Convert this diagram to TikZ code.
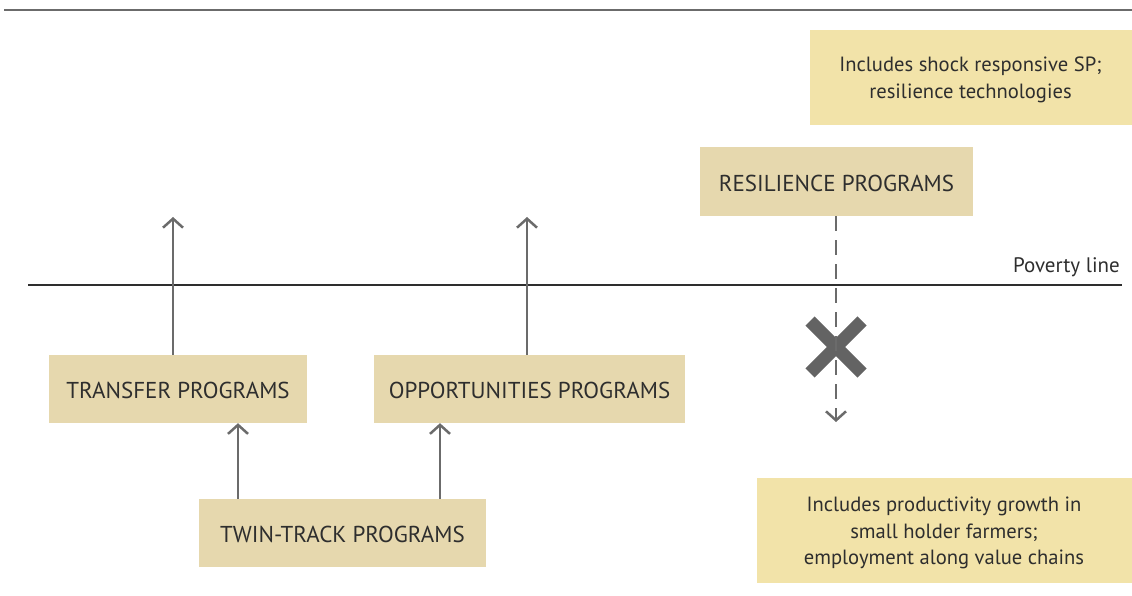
\documentclass[tikz,border=0pt]{standalone}
\usepackage{fontspec}
\setmainfont{PT Sans}
\usetikzlibrary{arrows.meta}
\definecolor{progfill}{HTML}{E6D8AE}
\definecolor{notefill}{HTML}{F2E3A9}
\definecolor{inkgray}{HTML}{6B6B6B}
\definecolor{txt}{HTML}{2E2E2E}
\definecolor{cross}{HTML}{636363}
\begin{document}
\begin{tikzpicture}[x=1pt,y=-1pt,
  progbox/.style={fill=progfill,draw=none,inner sep=0pt},
  notebox/.style={fill=notefill,draw=none,inner sep=0pt},
  progtext/.style={inner sep=0pt,text=txt,font=\fontsize{23}{27}\selectfont},
  notetext/.style={inner sep=0pt,text=txt,align=center,font=\fontsize{20.6}{26.5}\selectfont},
  uparrow/.style={draw=inkgray,line width=2.5pt,-{Straight Barb[length=9pt,width=20pt,line width=2.5pt]}},
  dasharrow/.style={draw=inkgray,line width=2.5pt,dash pattern=on 15pt off 9pt,-{Straight Barb[length=9pt,width=20pt,line width=2.5pt]}}]
\useasboundingbox (0,0) rectangle (1132,596);
% rules
\draw[inkgray,line width=2.5pt] (4,10) -- (1132,10);
\coordinate (pl0) at (28,285);
\coordinate (pl1) at (1122,285);
\draw[txt,line width=2pt] (pl0) -- (pl1);
\node[anchor=south east,text=txt,font=\fontsize{21}{24}\selectfont,inner sep=0pt] (plabel) at (1120,277) {Poverty line};
% note boxes
\node[notebox,minimum width=322pt,minimum height=95pt] (n1) at (970.5,77.5) {};
\node[notetext] (n1t) at ([yshift=-2.5pt]n1.center) {Includes shock responsive SP;\\resilience technologies};
\node[notebox,minimum width=375pt,minimum height=105pt] (n2) at (944,530.5) {};
\node[notetext] (n2t) at ([yshift=-2.5pt]n2.center) {Includes productivity growth in\\small holder farmers;\\employment along value chains};
% program boxes
\node[progbox,minimum width=273pt,minimum height=69pt] (res) at (836.5,181.5) {};
\node[progtext] (rest) at ([yshift=-2pt]res.center) {RESILIENCE PROGRAMS};
\node[progbox,minimum width=258pt,minimum height=68pt] (tr) at (178,389) {};
\node[progtext] (trt) at ([yshift=-1.5pt]tr.center) {TRANSFER PROGRAMS};
\node[progbox,minimum width=311pt,minimum height=68pt] (op) at (529.5,389) {};
\node[progtext] (opt) at ([yshift=-1.5pt]op.center) {OPPORTUNITIES PROGRAMS};
\node[progbox,minimum width=287pt,minimum height=68pt] (tw) at (342.5,533) {};
\node[progtext] (twt) at ([yshift=-1.5pt]tw.center) {TWIN-TRACK PROGRAMS};
% arrow ends
\coordinate (ta) at (173,217);
\coordinate (oa) at (527,217);
\coordinate (t1) at (238,0);
\coordinate (t2) at (440,0);
\coordinate (ra) at (836,422);
% cross
\draw[cross,line width=13pt] (810,321) -- (862,373) (862,321) -- (810,373);
% connectors
\draw[uparrow] (tr.north -| ta) -- (ta);
\draw[uparrow] (op.north -| oa) -- (oa);
\draw[uparrow] (tw.north -| t1) -- (tr.south -| t1);
\draw[uparrow] (tw.north -| t2) -- (op.south -| t2);
\draw[dasharrow] (res.south -| ra) -- (ra);
\end{tikzpicture}
\end{document}
